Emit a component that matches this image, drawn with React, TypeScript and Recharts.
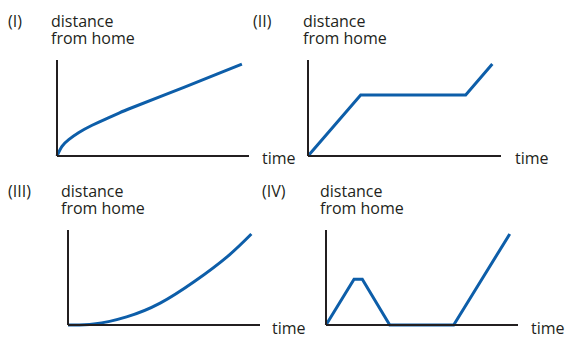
import React from 'react'
import { LineChart, Line, XAxis, YAxis } from 'recharts'

// time / distance readings for each of the four sketches (axes run 0..10)
const timeI = [0, 0.26, 0.61, 1.14, 1.83, 2.53, 3.23, 3.93, 6.61, 8.36, 9.63]
const distanceI = [0, 1.0, 1.7, 2.45, 3.2, 3.85, 4.47, 5.05, 7.15, 8.55, 9.58]

const timeII = [0, 2.73, 8.17, 9.55]
const distanceII = [0, 6.35, 6.35, 9.58]

const timeIII = [0, 1.35, 3.05, 4.8, 6.6, 8.3, 9.55]
const distanceIII = [0, 0.1, 0.85, 2.3, 4.6, 7.2, 9.58]

const timeIV = [0, 1.46, 1.89, 3.32, 6.65, 9.57]
const distanceIV = [0, 4.81, 4.81, 0, 0, 9.58]

const panelLabels = ['(I)', '(II)', '(III)', '(IV)']
const yAxisLabel = ['distance', 'from home']
const xAxisLabel = 'time'

const BLUE = '#0d5ea9'
const INK = '#231f20'
const FONT = '"Open Sans", sans-serif'
const FONT_SIZE = 16
const PAD = 4

const toRows = (time: number[], distance: number[]) =>
  time.map((t, i) => ({ time: t, distance: distance[i] }))

interface PanelProps {
  x: number
  y: number
  width: number
  height: number
  time: number[]
  distance: number[]
  curve: 'natural' | 'linear'
}

function Panel({ x, y, width, height, time, distance, curve }: PanelProps) {
  const axisLine = { stroke: INK, strokeWidth: 2 }
  return (
    <div style={{ position: 'absolute', left: x - PAD, top: y - PAD }}>
      <LineChart
        width={width + PAD * 2}
        height={height + PAD * 2}
        data={toRows(time, distance)}
        margin={{ top: PAD, right: PAD, bottom: 0, left: 0 }}
      >
        <XAxis type="number" dataKey="time" domain={[0, 10]} tick={false} tickLine={false} height={PAD} axisLine={axisLine} />
        <YAxis type="number" domain={[0, 10]} tick={false} tickLine={false} width={PAD} axisLine={axisLine} />
        <Line
          dataKey="distance"
          type={curve}
          stroke={BLUE}
          strokeWidth={3}
          dot={false}
          activeDot={false}
          isAnimationActive={false}
        />
      </LineChart>
    </div>
  )
}

interface CaptionProps {
  label: string
  labelX: number
  titleX: number
  timeX: number
  baseline: number
  timeBaseline: number
}

function Caption({ label, labelX, titleX, timeX, baseline, timeBaseline }: CaptionProps) {
  return (
    <>
      <text x={labelX} y={baseline}>{label}</text>
      <text x={titleX} y={baseline}>{yAxisLabel[0]}</text>
      <text x={titleX} y={baseline + 17}>{yAxisLabel[1]}</text>
      <text x={timeX} y={timeBaseline}>{xAxisLabel}</text>
    </>
  )
}

export default function App() {
  return (
    <div style={{ position: 'absolute', left: 0, top: 0, width: 566, height: 337, background: '#fff' }}>
      <Panel x={57} y={60} width={192} height={96} time={timeI} distance={distanceI} curve="natural" />
      <Panel x={308} y={60} width={193} height={96} time={timeII} distance={distanceII} curve="linear" />
      <Panel x={68} y={230} width={192} height={95} time={timeIII} distance={distanceIII} curve="natural" />
      <Panel x={326} y={230} width={192} height={95} time={timeIV} distance={distanceIV} curve="linear" />
      <svg
        width={566}
        height={337}
        style={{ position: 'absolute', left: 0, top: 0, pointerEvents: 'none' }}
        fontFamily={FONT}
        fontSize={FONT_SIZE}
        fill={INK}
      >
        <Caption label={panelLabels[0]} labelX={8} titleX={51} timeX={262} baseline={27} timeBaseline={164} />
        <Caption label={panelLabels[1]} labelX={253} titleX={303} timeX={515} baseline={27} timeBaseline={164} />
        <Caption label={panelLabels[2]} labelX={8} titleX={61} timeX={272} baseline={197} timeBaseline={334} />
        <Caption label={panelLabels[3]} labelX={262} titleX={320} timeX={531} baseline={197} timeBaseline={334} />
      </svg>
    </div>
  )
}
